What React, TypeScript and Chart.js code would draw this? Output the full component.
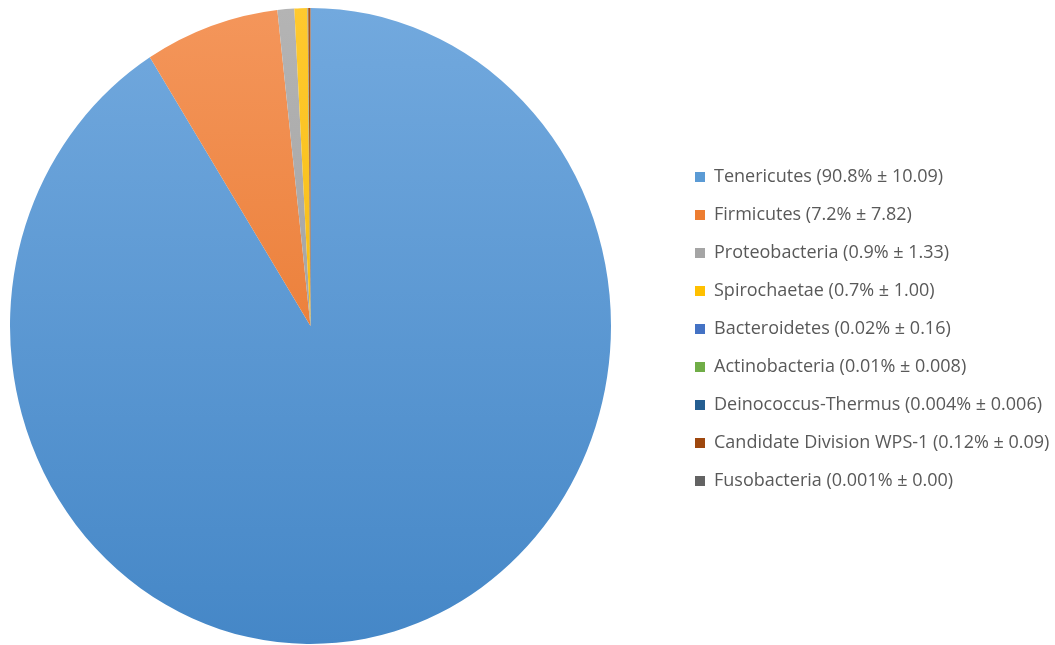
import React, { useEffect, useRef } from "react";
import { Chart, registerables } from "chart.js";

Chart.register(...registerables);

const PHYLA = [
  "Tenericutes",
  "Firmicutes",
  "Proteobacteria",
  "Spirochaetae",
  "Bacteroidetes",
  "Actinobacteria",
  "Deinococcus-Thermus",
  "Candidate Division WPS-1",
  "Fusobacteria",
];
const MEAN_LABELS = ["90.8%", "7.2%", "0.9%", "0.7%", "0.02%", "0.01%", "0.004%", "0.12%", "0.001%"];
const SD_LABELS = ["10.09", "7.82", "1.33", "1.00", "0.16", "0.008", "0.006", "0.09", "0.00"];
const VALUES = [90.8, 7.2, 0.9, 0.7, 0.02, 0.01, 0.004, 0.12, 0.001];

const SOLID = ["#5B9BD5", "#ED7D31", "#A5A5A5", "#FFC000", "#4472C4", "#70AD47", "#255E91", "#9E480E", "#636363"];
const GRAD_TOP = ["#72A9DE", "#F4965B", "#B4B4B4", "#FFC92E", "#5580CC", "#7EB857", "#2E6AA0", "#AA5218", "#707070"];
const GRAD_BOTTOM = ["#4587C7", "#E46C1D", "#959595", "#EFB300", "#3A65B5", "#62A03B", "#1F5484", "#8C3F0A", "#575757"];

const RADIUS = 300.5;
const SCALE_Y = 318 / 300.5;

const ellipsePlugin = {
  id: "ellipse",
  beforeDatasetsDraw(chart: any) {
    const arc = chart.getDatasetMeta(0).data[0];
    if (!arc) return;
    const { x, y } = arc;
    const ctx = chart.ctx;
    ctx.save();
    ctx.translate(x, y);
    ctx.scale(1, SCALE_Y);
    ctx.translate(-x, -y);
  },
  afterDatasetsDraw(chart: any) {
    if (!chart.getDatasetMeta(0).data[0]) return;
    chart.ctx.restore();
  },
};

export default function App() {
  const ref = useRef<HTMLCanvasElement | null>(null);

  useEffect(() => {
    if (!ref.current) return;
    const labels = PHYLA.map((p, i) => `${p} (${MEAN_LABELS[i]} ± ${SD_LABELS[i]})`);
    const chart = new Chart(ref.current, {
      type: "pie",
      data: {
        labels,
        datasets: [
          {
            data: VALUES,
            borderWidth: 0,
            radius: RADIUS,
            backgroundColor: (c: any) => {
              const i = c.dataIndex;
              const area = c.chart.chartArea;
              if (!area) return SOLID[i];
              const cy = (area.top + area.bottom) / 2;
              const g = c.chart.ctx.createLinearGradient(0, cy - RADIUS, 0, cy + RADIUS);
              g.addColorStop(0, GRAD_TOP[i]);
              g.addColorStop(1, GRAD_BOTTOM[i]);
              return g;
            },
          } as any,
        ],
      },
      options: {
        responsive: false,
        animation: false,
        layout: { padding: { top: 8, bottom: 1, left: 0, right: 0 } },
        plugins: {
          tooltip: { enabled: false },
          legend: {
            position: "right",
            align: "center",
            maxWidth: 380,
            title: { display: true, text: "", padding: 0, font: { size: 6, lineHeight: 1 } },
            labels: {
              boxWidth: 10,
              boxHeight: 10,
              padding: 20,
              color: "#595959",
              font: { family: "'Open Sans'", size: 18 },
              generateLabels: (ch: any) =>
                (ch.data.labels as string[]).map((text, i) => ({
                  text,
                  fillStyle: SOLID[i],
                  strokeStyle: SOLID[i],
                  lineWidth: 0,
                  fontColor: "#595959",
                  hidden: !ch.getDataVisibility(i),
                  index: i,
                })),
            },
          },
        },
      },
      plugins: [ellipsePlugin],
    });
    return () => chart.destroy();
  }, []);

  return (
    <div style={{ position: "fixed", left: 0, top: 0, width: 1055, height: 645, overflow: "hidden", background: "#fff" }}>
      <canvas
        ref={ref}
        width={1109}
        height={645}
        style={{ position: "absolute", left: -54, top: 0, width: 1109, height: 645 }}
      />
    </div>
  );
}
